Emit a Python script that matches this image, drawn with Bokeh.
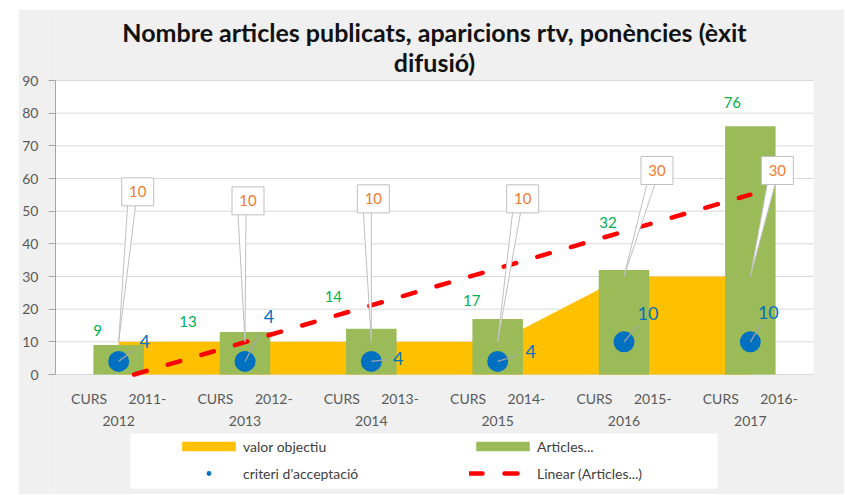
import numpy as np
from bokeh.plotting import figure
from bokeh.models import Range1d, FixedTicker, Legend, LegendItem, BoxAnnotation
from bokeh.core.properties import value
from bokeh.embed import file_html
from bokeh.resources import INLINE

# ---------------- data ----------------
categories = ["CURS 2011-2012", "CURS 2012-2013", "CURS 2013-2014",
              "CURS 2014-2015", "CURS 2015-2016", "CURS 2016-2017"]
GAP = "\u00a0" * 6
tick_labels = ["CURS" + GAP + "2011-\n2012", "CURS" + GAP + "2012-\n2013",
               "CURS" + GAP + "2013-\n2014", "CURS" + GAP + "2014-\n2015",
               "CURS" + GAP + "2015-\n2016", "CURS" + GAP + "2016-\n2017"]
valor_objectiu = [10, 10, 10, 10, 30, 30]
articles = [9, 13, 14, 17, 32, 76]
criteri = [4, 4, 4, 4, 10, 10]
y_ticks = [0, 10, 20, 30, 40, 50, 60, 70, 80, 90]
title_lines = ["Nombre articles publicats, aparicions rtv, ponències (èxit", "difusió)"]
legend_labels = ["valor objectiu", "Articles...", "criteri d'acceptació", "Linear (Articles...)"]

# ---------------- layout (page pixels) ----------------
FONT = "Lato"
BG = "#f0f0f0"
ORIGIN_X, ORIGIN_Y = 18, 9            # where the canvas starts on the page
W, H = 826, 485
PLOT_LEFT, PLOT_RIGHT, PLOT_TOP, PLOT_BASE = 55, 813, 80, 374
X0, X1, Y0, Y1 = 0.5, 6.5, 0, 90
SX = (PLOT_RIGHT - PLOT_LEFT) / (X1 - X0)   # px per x unit
SY = (PLOT_BASE - PLOT_TOP) / (Y1 - Y0)     # px per y unit


def px_x(px):
    return X0 + (px - PLOT_LEFT) / SX


def px_y(py):
    return (PLOT_BASE - py) / SY


TITLE_Y = [31, 61]
LEG_BOX = (130, 717, 433, 488)          # left, right, top, bottom
LEG_POS = (175, 481.5)                  # legend left, legend bottom

# label offsets in pixels (dx right, dy up)
green_dx = [-21, -57, -38, -26, -16, -18]
green_dy = [15, 11, 32, 18, 47, 24]
blue_dx = [26, 24, 27, 33, 24, 18]
blue_dy = [20, 45, 3, 10, 28, 29]
call_dx = [19, 3, 2, 25, 33, 27]
call_dy = [150, 141, 143, 143, 106, 106]
BOX_W, BOX_H = 32, 28

xs = np.arange(1, len(categories) + 1)

p = figure(width=W, height=H,
           x_range=Range1d(px_x(PLOT_LEFT), px_x(ORIGIN_X + W)),
           y_range=Range1d(px_y(ORIGIN_Y + H), px_y(ORIGIN_Y)),
           output_backend="svg", toolbar_location=None, title=None,
           x_axis_location=None,
           min_border_left=PLOT_LEFT - ORIGIN_X, min_border_right=0,
           min_border_top=0, min_border_bottom=0)
p.margin = (ORIGIN_Y, 0, 0, ORIGIN_X)
p.border_fill_color = BG
p.background_fill_color = BG
p.outline_line_color = None
p.grid.visible = False

# white plot area and white legend box
p.add_layout(BoxAnnotation(left=X0, right=X1, bottom=Y0, top=Y1, level="image",
                           fill_color="white", fill_alpha=1.0, line_color=None))
p.add_layout(BoxAnnotation(left=px_x(LEG_BOX[0]), right=px_x(LEG_BOX[1]),
                           top=px_y(LEG_BOX[2]), bottom=px_y(LEG_BOX[3]), level="image",
                           fill_color="white", fill_alpha=1.0, line_color=None))

# horizontal gridlines
p.segment(x0=X0, x1=X1, y0=y_ticks, y1=y_ticks, line_color="#d9d9d9", line_width=1)

# y axis
p.yaxis.ticker = FixedTicker(ticks=y_ticks)
p.yaxis.bounds = (Y0, Y1)
p.yaxis.axis_line_color = "#a6a6a6"
p.yaxis.major_tick_line_color = "#a6a6a6"
p.yaxis.major_tick_out = 7
p.yaxis.major_tick_in = 0
p.yaxis.minor_tick_line_color = None
p.yaxis.major_label_text_font = FONT
p.yaxis.major_label_text_font_size = "14px"
p.yaxis.major_label_text_color = "#595959"
p.yaxis.major_label_standoff = 10

# title
p.text(x=[(X0 + X1) / 2] * 2, y=[px_y(t) for t in TITLE_Y], text=title_lines,
       text_align="center", text_baseline="middle", text_color="#111111",
       text_font=value(FONT), text_font_size="25px", text_font_style="bold")

# category labels
p.text(x=xs, y=[Y0] * len(xs), text=tick_labels, y_offset=15,
       text_align="center", text_baseline="top", text_color="#595959",
       text_font=value(FONT), text_font_size="14px", text_line_height=1.3)

# ---------------- glyphs ----------------
r_area = p.varea(x=xs, y1=0, y2=valor_objectiu, fill_color="#ffc000")
r_bar = p.vbar(x=xs, top=articles, width=0.4, fill_color="#9bbb59", line_color=None)

slope, intercept = np.polyfit(xs, articles, 1)
x_start = max(float(xs[0]), -intercept / slope)   # the trend is clipped at the 0 baseline
trend_x = [x_start, float(xs[-1])]
trend_y = [slope * x + intercept for x in trend_x]
r_trend = p.line(x=trend_x, y=trend_y, line_color="#ff0000", line_width=4.5,
                 line_dash="13 22", line_cap="round")

r_dot = p.scatter(x=xs, y=criteri, size=21, fill_color="#0070c0", line_color=None)

# blue labels with leader lines
crit = np.array(criteri, dtype=float)
bdx = np.array(blue_dx, dtype=float) / SX
bdy = np.array(blue_dy, dtype=float) / SY
p.segment(x0=xs, y0=crit, x1=xs + 0.6 * bdx, y1=crit + 0.6 * bdy,
          line_color="#a6a6a6", line_width=1.2)
p.text(x=xs, y=crit, text=[str(v) for v in criteri],
       x_offset=blue_dx, y_offset=[-d for d in blue_dy],
       text_align="center", text_baseline="middle",
       text_color="#0070c0", text_font=value(FONT), text_font_size="18px")

# green labels
p.text(x=xs, y=articles, text=[str(v) for v in articles],
       x_offset=green_dx, y_offset=[-d for d in green_dy],
       text_align="center", text_baseline="middle",
       text_color="#00b050", text_font=value(FONT), text_font_size="15px")

# orange callouts for valor objectiu
vo = np.array(valor_objectiu, dtype=float)
bx = xs + np.array(call_dx, dtype=float) / SX
by = vo + np.array(call_dy, dtype=float) / SY
base_y = by - (BOX_H / 2 - 1) / SY
ptr_xs = [[b - 10 / SX, b - 2 / SX, x] for b, x in zip(bx, xs)]
ptr_ys = [[yb, yb, v] for yb, v in zip(base_y, vo)]
p.patches(xs=ptr_xs, ys=ptr_ys, fill_color="white", line_color="#bfbfbf", line_width=1)
p.rect(x=bx, y=by, width=BOX_W, height=BOX_H, width_units="screen", height_units="screen",
       fill_color="white", line_color="#bfbfbf", line_width=1)
p.text(x=bx, y=by, text=[str(v) for v in valor_objectiu],
       text_align="center", text_baseline="middle",
       text_color="#ed7d31", text_font=value(FONT), text_font_size="15px")

# ---------------- legend (column-major fill: col 1, then col 2) ----------------
legend = Legend(items=[
    LegendItem(label=legend_labels[0], renderers=[r_area]),
    LegendItem(label=legend_labels[2], renderers=[r_dot]),
    LegendItem(label=legend_labels[1], renderers=[r_bar]),
    LegendItem(label=legend_labels[3], renderers=[r_trend]),
], ncols=2, location=(LEG_POS[0] - PLOT_LEFT, ORIGIN_Y + H - LEG_POS[1]))
legend.background_fill_alpha = 0
legend.border_line_color = None
legend.padding = 0
legend.margin = 0
legend.glyph_width = 67
legend.glyph_height = 12
legend.label_standoff = 1
legend.label_width = 216
legend.label_height = 17
legend.spacing = 10
legend.label_text_font = FONT
legend.label_text_font_size = "14px"
legend.label_text_color = "#404040"
p.add_layout(legend)

open("out.html", "w").write(file_html(p, INLINE))
